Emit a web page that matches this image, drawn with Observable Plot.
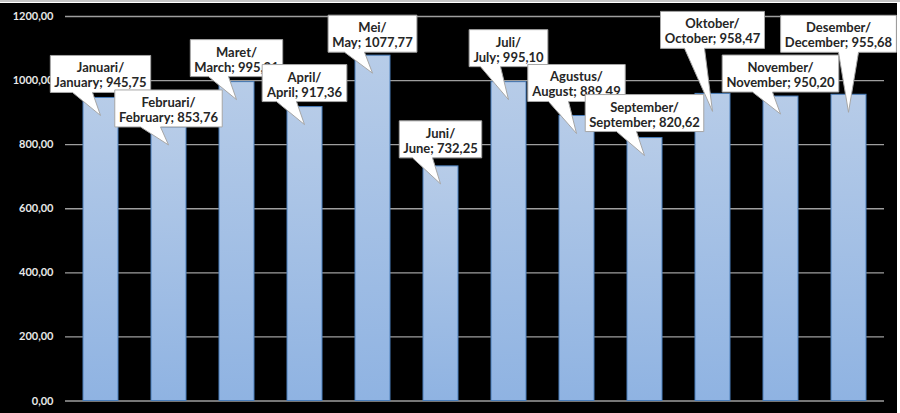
<!DOCTYPE html>
<html>
<head>
<meta charset="utf-8">
<script src="https://cdn.jsdelivr.net/npm/d3@7"></script>
<script src="https://cdn.jsdelivr.net/npm/@observablehq/plot@0.6"></script>
<style>
  html, body { margin: 0; padding: 0; background: #ffffff; }
  body { width: 900px; height: 413px; overflow: hidden; border-top: 2px solid #c4c4c4; box-sizing: border-box; }
  #chart { margin-top: 1px; width: 897px; height: 410px; }
  #chart svg { display: block; }
</style>
</head>
<body>
<div id="chart"></div>
<script>
// Monthly figures (Indonesian / English month names and the stated values)
const bulan = ["Januari", "Februari", "Maret", "April", "Mei", "Juni", "Juli", "Agustus", "September", "Oktober", "November", "Desember"];
const months = ["January", "February", "March", "April", "May", "June", "July", "August", "September", "October", "November", "December"];
const valueText = ["945,75", "853,76", "995,21", "917,36", "1077,77", "732,25", "995,10", "889.49", "820,62", "958,47", "950,20", "955,68"];
const yTicks = [0, 200, 400, 600, 800, 1000, 1200];

const values = valueText.map(s => +s.replace(",", "."));
const data = months.map((m, i) => ({month: m, bulan: bulan[i], value: values[i], text: valueText[i]}));

// Callout placement: how far each box sits above its bar top (px) and horizontal shift (px)
const calloutLift = [5, 0, 5, 5, 3, 8, 15, 14, 6, 45, 4, 42];
const calloutShift = [0, 0, 0, 0, 0, 0, 0, 0, 0, 0, 0, -10];

const fmt = v => d3.format(".2f")(v).replace(".", ",");

const chart = Plot.plot({
  width: 897,
  height: 410,
  marginTop: 13,
  marginBottom: 12.5,
  marginLeft: 65,
  marginRight: 13,
  style: {
    background: "#000000",
    color: "#e8e8e8",
    fontFamily: "Lato, 'Open Sans', sans-serif",
    fontWeight: "bold",
    fontSize: "11px",
    overflow: "visible"
  },
  x: {domain: months, paddingInner: 0.49, paddingOuter: 0.245, axis: null},
  y: {domain: [0, 1200], ticks: yTicks, tickFormat: fmt, tickSize: 0, tickPadding: 12, label: null},
  marks: [
    Plot.ruleY(yTicks, {stroke: "#9e9e9e", strokeWidth: 1.3}),
    Plot.barY(data, {x: "month", y: "value", fill: "url(#barFill)", stroke: "#4a7ebb", strokeWidth: 1})
  ]
});

document.getElementById("chart").appendChild(chart);

const svg = d3.select(chart);

// Vertical gradient for the bars
const grad = svg.insert("defs", ":first-child")
  .append("linearGradient")
  .attr("id", "barFill")
  .attr("x1", 0).attr("y1", 0).attr("x2", 0).attr("y2", 1);
grad.append("stop").attr("offset", "0%").attr("stop-color", "#b7cce8");
grad.append("stop").attr("offset", "100%").attr("stop-color", "#8fb3e2");

// Callouts placed with the chart's own scales
const xs = chart.scale("x");
const ys = chart.scale("y");
const bw = xs.bandwidth;
const layer = svg.append("g").attr("class", "callouts");

data.forEach((d, i) => {
  const cx = xs.apply(d.month) + bw / 2;
  const top = ys.apply(d.value);
  const tipX = cx, tipY = top + 18;
  const shift = calloutShift[i];
  const boxCx = cx + shift;
  const bottom = top - calloutLift[i];
  const boxTop = bottom - 37;

  const g = layer.append("g");
  const path = g.append("path");
  const t = g.append("text")
    .attr("text-anchor", "middle")
    .attr("font-family", "Lato, 'Open Sans', sans-serif")
    .attr("font-weight", "bold")
    .attr("font-size", 13)
    .attr("fill", "#262626");
  t.append("tspan").attr("x", boxCx).attr("y", boxTop + 17).text(d.bulan + "/");
  t.append("tspan").attr("x", boxCx).attr("y", boxTop + 32).text(d.month + "; " + d.text);

  const w = t.node().getBBox().width + 8;
  const left = boxCx - w / 2, right = boxCx + w / 2;
  const [b0, b1] = shift ? [tipX - 10, tipX + 10] : [tipX - 28, tipX - 8];
  path
    .attr("d", `M${left},${boxTop}H${right}V${bottom}H${b1}L${tipX},${tipY}L${b0},${bottom}H${left}Z`)
    .attr("fill", "#ffffff")
    .attr("stroke", "#a6a6a6")
    .attr("stroke-width", 1);
});
</script>
</body>
</html>
